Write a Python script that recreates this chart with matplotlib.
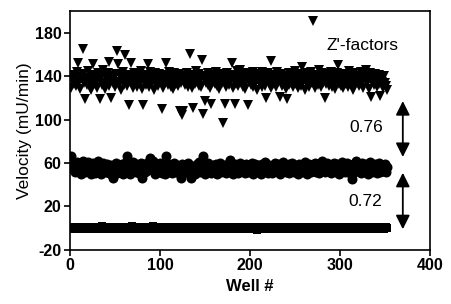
import matplotlib
matplotlib.use("Agg")
import matplotlib.pyplot as plt
import numpy as np

plt.rcParams['font.family'] = ['Liberation Sans', 'DejaVu Sans']
plt.rcParams['axes.unicode_minus'] = False

# velocity per well (mU/min), wells 1..352
top_wells = [
    129, 140, 136, 133, 141, 138, 131, 144, 152, 135, 128, 139, 137, 142, 165, 134,
    119, 138, 132, 145, 136, 130, 140, 127, 137, 151, 133, 141, 135, 129, 143, 138,
    119, 136, 140, 132, 146, 134, 128, 139, 137, 143, 131, 153, 136, 120, 140, 134,
    138, 130, 142, 163, 135, 151, 133, 140, 127, 137, 144, 132, 159, 136, 139, 131,
    141, 113, 135, 152, 138, 129, 143, 134, 140, 136, 130, 142, 137, 133, 145, 128,
    113, 139, 135, 141, 132, 138, 151, 130, 144, 136, 134, 140, 127, 139, 143, 133,
    137, 131, 142, 135, 139, 110, 136, 129, 141, 134, 152, 138, 132, 144, 137, 130,
    140, 135, 128, 143, 136, 133, 139, 131, 142, 108, 137, 134, 104, 108, 140, 132,
    136, 143, 130, 138, 160, 134, 141, 129, 111, 137, 133, 145, 135, 139, 131, 142,
    136, 130, 155, 105, 140, 117, 134, 138, 143, 132, 137, 129, 114, 141, 135, 139,
    133, 144, 131, 137, 140, 128, 136, 142, 134, 97, 139, 114, 135, 130, 143, 137,
    132, 141, 138, 152, 129, 136, 114, 140, 133, 145, 131, 137, 146, 134, 139, 130,
    142, 136, 128, 138, 143, 113, 135, 140, 132, 137, 144, 130, 139, 134, 141, 127,
    136, 142, 133, 138, 130, 144, 135, 140, 131, 120, 137, 143, 134, 139, 129, 154,
    138, 133, 141, 136, 130, 144, 135, 139, 121, 137, 142, 131, 138, 134, 140, 128,
    119, 136, 143, 132, 139, 134, 141, 130, 137, 145, 133, 138, 129, 142, 136, 140,
    131, 148, 135, 139, 127, 143, 136, 133, 140, 130, 138, 144, 134, 191, 137, 129,
    141, 135, 139, 132, 146, 137, 130, 143, 134, 138, 120, 140, 133, 136, 142, 131,
    137, 144, 130, 139, 135, 141, 128, 136, 143, 150, 133, 138, 131, 140, 135, 129,
    142, 137, 133, 139, 130, 145, 136, 141, 132, 138, 127, 143, 135, 140, 134, 137,
    131, 139, 144, 133, 136, 129, 141, 138, 146, 134, 140, 128, 137, 143, 121, 135,
    139, 132, 142, 136, 130, 138, 133, 141, 122, 137, 135, 129, 140, 134, 131, 127,
]

mid_wells = [
    66, 60, 57, 54, 59, 52, 56, 61, 55, 53, 58, 50, 57, 62, 54, 56,
    52, 59, 55, 61, 53, 57, 50, 58, 54, 60, 56, 51, 57, 55, 62, 53,
    58, 54, 50, 56, 60, 53, 57, 52, 59, 55, 51, 57, 54, 58, 49, 46,
    56, 53, 60, 51, 55, 58, 52, 57, 54, 59, 50, 56, 53, 61, 66, 52,
    57, 54, 50, 58, 55, 61, 53, 56, 52, 59, 54, 57, 51, 55, 60, 46,
    55, 58, 52, 56, 53, 60, 54, 57, 65, 59, 55, 62, 53, 56, 50, 58,
    54, 57, 52, 60, 55, 51, 58, 53, 56, 50, 66, 55, 52, 59, 54, 57,
    51, 56, 53, 60, 55, 52, 58, 54, 57, 50, 56, 46, 59, 53, 55, 52,
    57, 54, 60, 51, 56, 53, 46, 55, 52, 57, 50, 54, 59, 53, 56, 61,
    52, 55, 58, 66, 57, 50, 56, 54, 60, 52, 57, 55, 51, 58, 54, 56,
    53, 59, 55, 50, 57, 54, 60, 52, 56, 53, 58, 55, 51, 57, 54, 59,
    52, 63, 55, 57, 50, 56, 53, 59, 54, 57, 51, 56, 60, 53, 55, 58,
    54, 57, 51, 59, 55, 52, 58, 53, 56, 60, 50, 57, 54, 59, 52, 56,
    58, 53, 56, 50, 59, 55, 52, 57, 61, 54, 56, 51, 58, 53, 57, 55,
    51, 58, 54, 60, 53, 56, 52, 59, 55, 50, 57, 54, 61, 53, 56, 52,
    57, 54, 59, 51, 56, 53, 60, 55, 52, 58, 54, 57, 50, 56, 59, 53,
    55, 52, 58, 54, 61, 53, 57, 50, 56, 59, 54, 52, 58, 55, 53, 60,
    52, 57, 54, 59, 51, 56, 53, 62, 55, 58, 52, 56, 54, 60, 53, 57,
    55, 51, 58, 54, 60, 53, 56, 52, 59, 55, 50, 57, 54, 61, 53, 56,
    58, 52, 55, 60, 53, 57, 51, 56, 45, 54, 59, 52, 56, 62, 53, 57,
    54, 58, 51, 56, 60, 53, 57, 52, 59, 55, 50, 56, 61, 54, 58, 52,
    56, 53, 59, 55, 51, 57, 54, 60, 52, 56, 58, 53, 55, 59, 52, 56,
]

low_wells = [
    0, 1, -1, 0, 1, 0, -1, 1, 0, -1, 0, 1, 0, -1, 1, 0,
    -1, 0, 1, 0, -1, 1, 0, 0, -1, 1, 0, -1, 0, 1, 0, -1,
    1, 0, -1, 2, 0, 1, -1, 0, 1, 0, -1, 0, 1, -1, 0, 1,
    0, -1, 1, 0, 0, -1, 1, 0, -1, 1, 0, 0, -1, 1, 0, -1,
    1, 0, -1, 0, 2, 1, 0, -1, 0, 1, -1, 0, 1, 0, -1, 0,
    1, -1, 0, 1, 0, -1, 0, 1, 0, -1, 1, 2, 0, -1, 0, 1,
    0, 1, -1, 0, 1, 0, -1, 0, 1, -1, 0, 1, 0, -1, 1, 0,
    -1, 0, 1, 0, -1, 1, 0, -1, 0, 1, 0, -1, 1, 0, -1, 0,
    1, 0, -1, 1, 0, 0, -1, 1, 0, -1, 0, 1, -1, 0, 1, 0,
    -1, 1, 0, -1, 0, 1, 0, -1, 1, 0, -1, 0, 1, 0, -1, 1,
    0, -1, 0, 1, -1, 0, 1, 0, -1, 0, 1, -1, 0, 1, 0, -1,
    1, 0, -1, 0, 1, 0, -1, 1, 0, -1, 0, 1, 0, -1, 1, 0,
    -1, 0, 1, 0, -1, 1, 0, 0, -1, 1, 0, -1, 0, 1, 0, -2,
    -1, 0, 1, -1, 0, 1, 0, -1, 0, 1, -1, 0, 1, 0, -1, 0,
    1, 0, -1, 0, 1, -1, 0, 1, 0, -1, 0, 1, 0, -1, 1, 0,
    -1, 0, 1, 0, -1, 0, 1, -1, 0, 1, 0, -1, 1, 0, -1, 0,
    1, -1, 0, 1, 0, -1, 0, 1, -1, 0, 1, 0, -1, 1, 0, -1,
    0, 1, 0, -1, 1, 0, -1, 0, 1, 0, 1, -1, 0, 1, 0, 0,
    -1, 1, 0, -1, 0, 1, 0, -1, 1, 0, -1, 0, 1, 0, -1, 1,
    0, -1, 1, 0, -1, 0, 1, 0, -1, 1, 0, -1, 0, 1, 1, 0,
    -1, 0, 1, 0, -1, 1, 0, -1, 0, 1, 0, -1, 1, 0, -1, 0,
    1, 0, -1, 1, 0, -1, 0, 1, 0, -1, 1, 0, -1, 0, 1, 0,
]

wells = np.arange(1, len(top_wells) + 1)

fig = plt.figure(figsize=(4.51, 3.04), dpi=100)
ax = fig.add_axes([0.155, 0.178, 0.798, 0.786])

ax.plot(wells, low_wells, 's', color='black', ms=6.2, mew=0)
ax.plot(wells, mid_wells, 'o', color='black', ms=7.2, mew=0)
ax.plot(wells, top_wells, 'v', color='black', ms=7.5, mew=0)

ax.set_xlim(0, 400)
ax.set_ylim(-20, 200)
ax.set_xticks([0, 100, 200, 300, 400])
ax.set_yticks([-20, 20, 60, 100, 140, 180])
for lbl in ax.get_xticklabels() + ax.get_yticklabels():
    lbl.set_fontweight('bold')
ax.tick_params(labelsize=11.5, length=4, width=1.2, direction='out', pad=2)
for s in ax.spines.values():
    s.set_linewidth(1.2)

ax.set_xlabel('Well #', fontsize=12, fontweight='bold', labelpad=4)
ax.set_ylabel('Velocity (mU/min)', fontsize=12.5, labelpad=2)

# Z'-factor annotations
ax.text(285, 168, "Z'-factors", fontsize=12.5, va='center', ha='left')
ax.text(311, 93, '0.76', fontsize=12.5, va='center', ha='left')
ax.text(309, 25, '0.72', fontsize=12.5, va='center', ha='left')
arrow = dict(arrowstyle='<|-|>,head_length=0.6,head_width=0.3', color='black',
             lw=1.3, mutation_scale=14, shrinkA=0, shrinkB=0)
ax.annotate('', xy=(370, 117), xytext=(370, 65.5), arrowprops=arrow)
ax.annotate('', xy=(370, 51), xytext=(370, -1), arrowprops=arrow)

fig.savefig('out.png', dpi=100)
